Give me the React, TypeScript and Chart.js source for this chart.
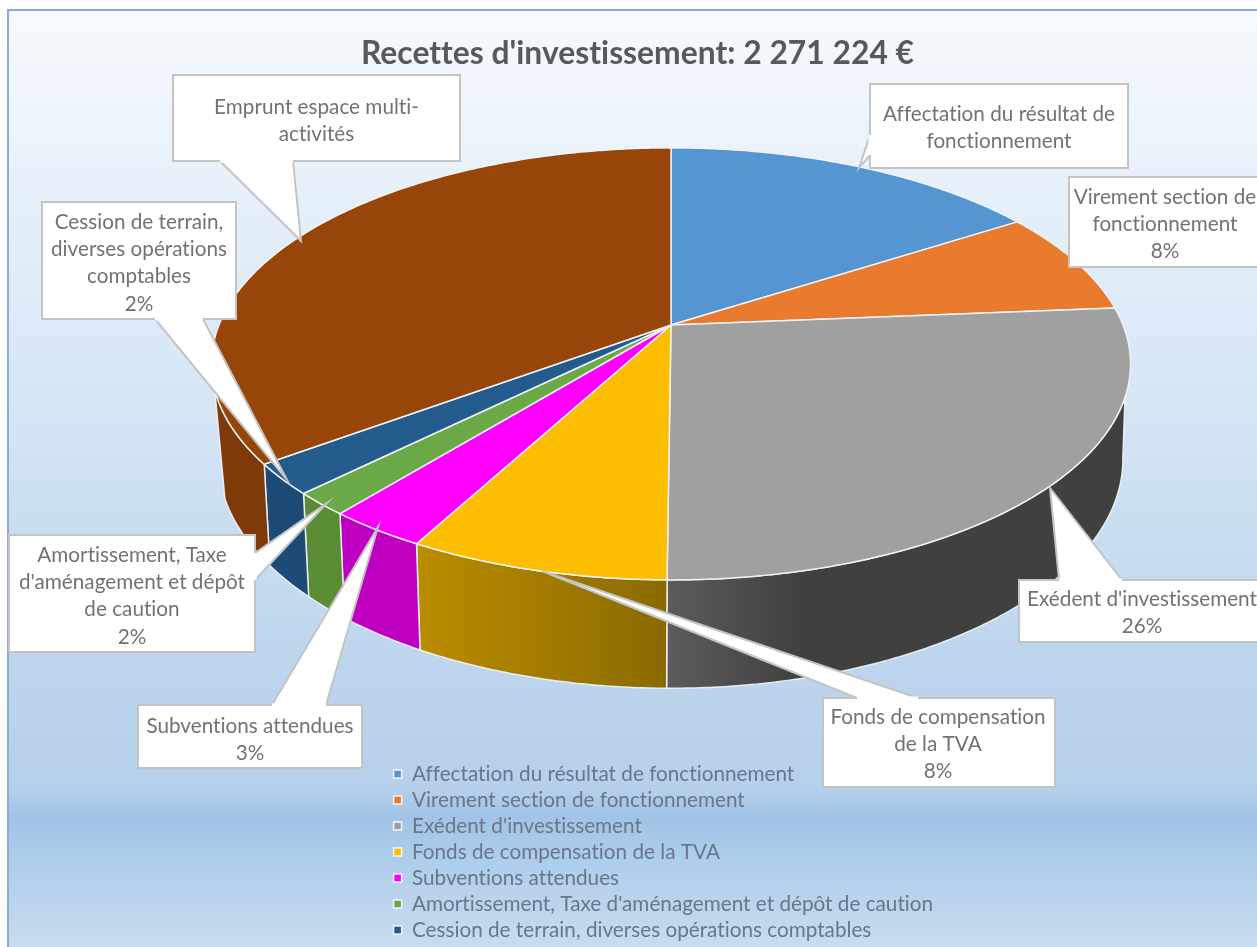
import React, { useEffect, useRef } from "react";
import { Chart, registerables } from "chart.js";

Chart.register(...registerables);

const titleText = "Recettes d'investissement: 2 271 224 €";
const categories = [
  "Affectation du résultat de fonctionnement",
  "Virement section de fonctionnement",
  "Exédent d'investissement",
  "Fonds de compensation de la TVA",
  "Subventions attendues",
  "Amortissement, Taxe d'aménagement et dépôt de caution",
  "Cession de terrain, diverses opérations comptables",
  "Emprunt espace multi-activités",
];
const values = [361000, 177000, 600200, 175800, 68000, 39000, 52000, 798224];
const topColors = ["#5596d2", "#e97a2e", "#a0a0a0", "#fdbd00", "#ff00ff", "#6ba946", "#235b8c", "#984509"];
const wallColors = ["#3f6f9c", "#a8571f", "#404040", "#a27a00", "#c000c0", "#5a8c36", "#1c4b75", "#7e3a08"];

const FONT = "Lato, Carlito, 'Noto Sans', sans-serif";
const TEXT = "#727272";

// Projection of the pie's top and base discs (the perspective of a 3-D pie)
const topDisc = { cx: 671, cy: 325, R: 452, S: 209, k: -0.18 };
const baseDisc = { cx: 670.5, cy: 418, R: 445, S: 221.6, k: -0.18 };
const project = (d: any, a: number) => {
  const u = Math.cos(a);
  const v = Math.sin(a);
  const w = 1 + d.k * v;
  return { x: d.cx + (d.R * u) / w, y: d.cy + (d.S * v) / w };
};
const deg = Math.PI / 180;
// visible part of the side wall, in canvas angles, on the top and base rims
const topRim = [19 * deg, 163 * deg];
const baseRim = [10 * deg, 160 * deg];

// Callout boxes: box, pointer base points and tip; text from the categories
const callouts = [
  { i: 0, lines: ["Affectation du résultat de", "fonctionnement"], box: [870, 84, 258, 84], ptr: [[870, 155], [859, 168], [870, 135]], pct: false, ty: 114 },
  { i: 1, lines: ["Virement section de", "fonctionnement"], box: [1069, 177, 200, 90], ptr: null, pct: true, ty: 197, tx: 1165 },
  { i: 2, lines: ["Exédent d'investissement"], box: [1019, 580, 250, 62], ptr: [[1059, 580], [1050, 488], [1122, 580]], pct: true, ty: 599, tx: 1142 },
  { i: 3, lines: ["Fonds de compensation", "de la TVA"], box: [823, 698, 232, 89], ptr: [[857, 698], [542, 571], [918, 698]], pct: true, ty: 717, tx: 938 },
  { i: 4, lines: ["Subventions attendues"], box: [138, 705, 224, 63], ptr: [[272, 705], [378, 527], [326, 705]], pct: true, ty: 726 },
  { i: 5, lines: ["Amortissement, Taxe", "d'aménagement et dépôt", "de caution"], box: [9, 535, 246, 117], ptr: [[255, 553], [327, 503], [255, 580]], pct: true, ty: 555, tx: 132 },
  { i: 6, lines: ["Cession de terrain,", "diverses opérations", "comptables"], box: [42, 202, 194, 117], ptr: [[155, 319], [287, 480], [203, 319]], pct: true, ty: 222 },
  { i: 7, lines: ["Emprunt espace multi-", "activités"], box: [173, 75, 287, 86], ptr: [[220, 161], [301, 241], [293, 161]], pct: false, ty: 107 },
];

const pie3d = {
  id: "pie3d",
  afterLayout(chart: any) {
    const t = chart.titleBlock;
    t.left = 18; t.right = 1257; t.top = 35; t.bottom = 73;
    const l = chart.legend;
    const w = l.width;
    l.left = 388.3; l.right = 388.3 + w; l.top = 758.4; l.bottom = 1200;
  },
  beforeDraw(chart: any) {
    const ctx = chart.ctx;
    ctx.letterSpacing = "0.01px"; // no ligatures, as in the reference text
    ctx.save();
    ctx.fillStyle = "#ffffff";
    ctx.fillRect(0, 0, 1257, 947);
    const g = ctx.createLinearGradient(0, 10, 0, 947);
    const stops: [number, string][] = [
      [10, "#f7fafe"], [170, "#e8f1fa"], [400, "#d6e6f5"], [640, "#bfd7ee"],
      [790, "#b5d0ea"], [815, "#a0c3e6"], [860, "#aecdea"], [947, "#c8dcf0"],
    ];
    stops.forEach(([y, c]) => g.addColorStop((y - 10) / 937, c));
    ctx.fillStyle = g;
    ctx.fillRect(8, 10, 1249, 937);
    ctx.strokeStyle = "#8eaadb";
    ctx.lineWidth = 2;
    ctx.beginPath();
    ctx.moveTo(8, 947);
    ctx.lineTo(8, 10);
    ctx.lineTo(1257, 10);
    ctx.stroke();
    ctx.restore();
  },
  beforeDatasetsDraw(chart: any) {
    const ctx = chart.ctx;
    const arcs = chart.getDatasetMeta(0).data;
    ctx.save();
    ctx.lineJoin = "round";
    // side walls, following the library's arc angles
    arcs.forEach((arc: any, i: number) => {
      const t0 = Math.max(arc.startAngle, topRim[0]);
      const t1 = Math.min(arc.endAngle, topRim[1]);
      const b0 = Math.max(arc.startAngle, baseRim[0]);
      const b1 = Math.min(arc.endAngle, baseRim[1]);
      if (b1 <= b0 || t1 <= t0) return;
      const stepsT = Math.max(2, Math.ceil((t1 - t0) / (0.5 * deg)));
      const stepsB = Math.max(2, Math.ceil((b1 - b0) / (0.5 * deg)));
      ctx.beginPath();
      for (let s = 0; s <= stepsT; s++) {
        const p = project(topDisc, t0 + ((t1 - t0) * s) / stepsT);
        s === 0 ? ctx.moveTo(p.x, p.y) : ctx.lineTo(p.x, p.y);
      }
      for (let s = stepsB; s >= 0; s--) {
        const p = project(baseDisc, b0 + ((b1 - b0) * s) / stepsB);
        ctx.lineTo(p.x, p.y);
      }
      ctx.closePath();
      let fill: any = wallColors[i];
      if (i === 2) {
        const g = ctx.createLinearGradient(666, 0, 800, 0);
        g.addColorStop(0, "#5c5c5c");
        g.addColorStop(1, "#404040");
        fill = g;
      } else if (i === 3) {
        const g = ctx.createLinearGradient(420, 0, 666, 0);
        g.addColorStop(0, "#bb8c00");
        g.addColorStop(1, "#8a6a00");
        fill = g;
      }
      ctx.fillStyle = fill;
      ctx.fill();
      ctx.strokeStyle = "rgba(240,245,250,0.9)";
      ctx.lineWidth = 1.5;
      ctx.stroke();
    });
    // top faces
    arcs.forEach((arc: any, i: number) => {
      const a0 = arc.startAngle;
      const a1 = arc.endAngle;
      const steps = Math.max(2, Math.ceil((a1 - a0) / (0.5 * deg)));
      ctx.beginPath();
      ctx.moveTo(topDisc.cx, topDisc.cy);
      for (let s = 0; s <= steps; s++) {
        const p = project(topDisc, a0 + ((a1 - a0) * s) / steps);
        ctx.lineTo(p.x, p.y);
      }
      ctx.closePath();
      ctx.fillStyle = topColors[i];
      ctx.fill();
      ctx.strokeStyle = "rgba(240,245,250,0.95)";
      ctx.lineWidth = 1.5;
      ctx.stroke();
    });
    ctx.restore();
    return false;
  },
  afterDraw(chart: any) {
    const ctx = chart.ctx;
    const total = values.reduce((a, b) => a + b, 0);
    ctx.save();
    callouts.forEach((c: any) => {
      const [x, y, w, h] = c.box;
      ctx.fillStyle = "#ffffff";
      ctx.strokeStyle = "#c4c4c4";
      ctx.lineWidth = 2;
      ctx.fillRect(x, y, w, h);
      ctx.strokeRect(x, y, w, h);
      if (c.ptr) {
        ctx.beginPath();
        ctx.moveTo(c.ptr[0][0], c.ptr[0][1]);
        ctx.lineTo(c.ptr[1][0], c.ptr[1][1]);
        ctx.lineTo(c.ptr[2][0], c.ptr[2][1]);
        ctx.fill();
        ctx.stroke();
        ctx.beginPath();
        ctx.moveTo(c.ptr[0][0], c.ptr[0][1]);
        ctx.lineTo(c.ptr[2][0], c.ptr[2][1]);
        ctx.strokeStyle = "#ffffff";
        ctx.lineWidth = 3;
        ctx.stroke();
      }
      ctx.fillStyle = TEXT;
      ctx.font = `20.7px ${FONT}`;
      ctx.textAlign = "center";
      ctx.textBaseline = "middle";
      const lines = c.pct ? [...c.lines, `${Math.round((values[c.i] / total) * 100)}%`] : c.lines;
      const tx = c.tx ?? x + w / 2;
      lines.forEach((s: string, n: number) => ctx.fillText(s, tx, c.ty + n * 27.3));
    });
    ctx.restore();
  },
};

export default function App() {
  const ref = useRef<HTMLCanvasElement>(null);
  useEffect(() => {
    const chart = new Chart(ref.current as any, {
      type: "pie",
      data: {
        labels: categories,
        datasets: [{ data: values, backgroundColor: topColors, clip: false } as any],
      },
      options: {
        animation: false,
        responsive: false,
        plugins: {
          tooltip: { enabled: false },
          title: {
            display: true,
            text: titleText,
            color: "#595959",
            padding: 0,
            font: { family: FONT, size: 31.8, weight: "bold", lineHeight: 1.2 },
          },
          legend: {
            display: true,
            position: "left",
            align: "start",
            labels: {
              color: "#68778a",
              boxWidth: 8,
              boxHeight: 8,
              padding: 5.3,
              font: { family: FONT, size: 20.7, lineHeight: 1 },
              filter: (item: any) => item.index < 7,
              generateLabels: () =>
                categories.map((text, index) => ({
                  text,
                  index,
                  fillStyle: topColors[index],
                  strokeStyle: "rgba(255,255,255,0.85)",
                  lineWidth: 1.5,
                  fontColor: "#68778a",
                })),
            },
          },
        },
      },
      plugins: [pie3d],
    } as any);
    return () => chart.destroy();
  }, []);
  return (
    <canvas
      ref={ref}
      width={1257}
      height={947}
      style={{ position: "fixed", left: 0, top: 0, display: "block", filter: "blur(0.5px)" }}
    />
  );
}
